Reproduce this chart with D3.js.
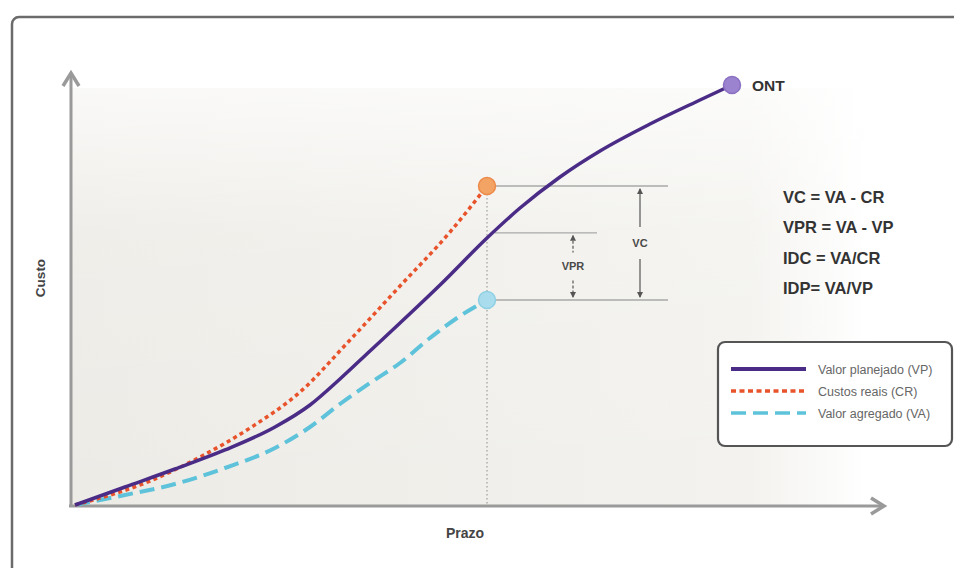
<!DOCTYPE html>
<html><head><meta charset="utf-8">
<script src="https://cdn.jsdelivr.net/npm/d3@7"></script>
<style>html,body{margin:0;padding:0;background:#fff;overflow:hidden}</style>
</head><body>
<svg id="c" width="954" height="568"></svg>
<script>
// ---- data (x = prazo, y = custo, arbitrary units 0..100) ----
const vpX = [0, 7.61, 15.22, 22.83, 30.44, 35.77, 40.33, 44.90, 49.47, 55.56, 62.71, 67.73, 73.82, 79.91, 87.52, 95.13, 100];
const vpY = [0, 4.29, 8.57, 13.10, 18.57, 23.81, 30.00, 36.67, 43.33, 52.38, 63.57, 70.71, 78.10, 84.29, 90.71, 96.43, 100];
const crX = [0, 11.42, 19.03, 26.64, 34.25, 41.86, 49.47, 57.08, 62.71];
const crY = [0, 5.71, 11.43, 18.33, 26.90, 39.29, 52.14, 65.00, 75.95];
const vaX = [0, 7.61, 15.22, 22.83, 30.44, 35.77, 40.33, 44.90, 49.47, 54.03, 58.60, 62.71];
const vaY = [0, 2.38, 5.00, 8.81, 13.57, 18.57, 24.05, 29.05, 33.81, 39.76, 45.0, 48.81];
const statusX = 62.71;
const vpStatus = 64.8;
const seriesNames = ["Valor planejado (VP)", "Custos reais (CR)", "Valor agregado (VA)"];
const formulas = ["VC = VA - CR", "VPR = VA - VP", "IDC = VA/CR", "IDP= VA/VP"];
const axisLabels = {x: "Prazo", y: "Custo"};

const svg = d3.select("#c");
const x = d3.scaleLinear().domain([0, 100]).range([75, 732]);
const y = d3.scaleLinear().domain([0, 100]).range([505, 85]);

const defs = svg.append("defs");
const g1 = defs.append("linearGradient").attr("id", "bgH").attr("x1", 0).attr("x2", 1).attr("y1", 0).attr("y2", 0);
g1.append("stop").attr("offset", "0").attr("stop-color", "#edebe6");
g1.append("stop").attr("offset", "0.85").attr("stop-color", "#f3f2ee");
g1.append("stop").attr("offset", "1").attr("stop-color", "#ffffff");
const g2 = defs.append("linearGradient").attr("id", "bgV").attr("x1", 0).attr("x2", 0).attr("y1", 0).attr("y2", 1);
g2.append("stop").attr("offset", "0").attr("stop-color", "#fff").attr("stop-opacity", 0.7);
g2.append("stop").attr("offset", "0.35").attr("stop-color", "#fff").attr("stop-opacity", 0.15);
g2.append("stop").attr("offset", "1").attr("stop-color", "#fff").attr("stop-opacity", 0);

// frame
svg.append("rect").attr("x", 12).attr("y", 17).attr("width", 1000).attr("height", 600)
  .attr("rx", 7).attr("fill", "#fff").attr("stroke", "#6b6b6b").attr("stroke-width", 2.5);

// plot background
svg.append("rect").attr("x", 72).attr("y", 88).attr("width", 795).attr("height", 417).attr("fill", "url(#bgH)");
svg.append("rect").attr("x", 72).attr("y", 88).attr("width", 795).attr("height", 417).attr("fill", "url(#bgV)");

// axes
const axCol = "#9a9a9a";
svg.append("line").attr("x1", 71).attr("x2", 71).attr("y1", 507).attr("y2", 74).attr("stroke", axCol).attr("stroke-width", 3);
svg.append("path").attr("d", "M63,86 L71,73 L79,86").attr("fill", "none").attr("stroke", axCol).attr("stroke-width", 3.5).attr("stroke-linejoin", "miter");
svg.append("line").attr("x1", 69).attr("x2", 882).attr("y1", 506).attr("y2", 506).attr("stroke", axCol).attr("stroke-width", 3);
svg.append("path").attr("d", "M871,498 L884,506 L871,514").attr("fill", "none").attr("stroke", axCol).attr("stroke-width", 3.5);

svg.append("text").attr("x", 465).attr("y", 538).attr("text-anchor", "middle")
  .attr("font-family", "Liberation Sans, Arial").attr("font-weight", "bold")
  .attr("font-size", 14).attr("fill", "#444").text(axisLabels.x);
svg.append("text").attr("transform", "translate(45,278) rotate(-90)").attr("text-anchor", "middle")
  .attr("font-family", "Liberation Sans, Arial").attr("font-weight", "bold")
  .attr("font-size", 13.5).attr("fill", "#444").text(axisLabels.y);

// status date vertical dotted line
svg.append("line").attr("x1", x(statusX)).attr("x2", x(statusX)).attr("y1", y(crY[crY.length-1])).attr("y2", 505)
  .attr("stroke", "#8a8a8a").attr("stroke-width", 1).attr("stroke-dasharray", "1.5,2.5");

// reference horizontal lines
const refCol = "#a9a9a9";
const sx = x(statusX);
svg.append("line").attr("x1", sx + 8).attr("x2", 668).attr("y1", y(crY[crY.length-1])).attr("y2", y(crY[crY.length-1])).attr("stroke", refCol).attr("stroke-width", 1.3);
svg.append("line").attr("x1", sx + 8).attr("x2", 597).attr("y1", y(vpStatus)).attr("y2", y(vpStatus)).attr("stroke", refCol).attr("stroke-width", 1.3);
svg.append("line").attr("x1", sx + 8).attr("x2", 668).attr("y1", y(vaY[vaY.length-1])).attr("y2", y(vaY[vaY.length-1])).attr("stroke", refCol).attr("stroke-width", 1.3);

// measurement arrows
function measure(xp, top, bot, label, dashed) {
  const mid = (top + bot) / 2;
  const col = "#555";
  const gap = label.length > 2 ? 14 : 16;
  [[top + 3, mid - gap], [mid + gap, bot - 3]].forEach(([a, b]) => {
    svg.append("line").attr("x1", xp).attr("x2", xp).attr("y1", a).attr("y2", b)
      .attr("stroke", col).attr("stroke-width", 1.2).attr("stroke-dasharray", dashed ? "3,2" : null);
  });
  svg.append("path").attr("d", `M${xp-3},${top+8} L${xp},${top+2} L${xp+3},${top+8} Z`).attr("fill", col);
  svg.append("path").attr("d", `M${xp-3},${bot-8} L${xp},${bot-2} L${xp+3},${bot-8} Z`).attr("fill", col);
  svg.append("text").attr("x", xp).attr("y", mid + 4).attr("text-anchor", "middle")
    .attr("font-family", "Liberation Sans, Arial").attr("font-weight", "bold")
    .attr("font-size", 11).attr("fill", "#4a4a4a").text(label);
}
measure(640, y(crY[crY.length-1]), y(vaY[vaY.length-1]), "VC", false);
measure(573, y(vpStatus), y(vaY[vaY.length-1]), "VPR", true);

// curves
const line = d3.line().x(d => x(d[0])).y(d => y(d[1])).curve(d3.curveMonotoneX);
const vp = vpX.map((v, i) => [v, vpY[i]]);
const cr = crX.map((v, i) => [v, crY[i]]);
const va = vaX.map((v, i) => [v, vaY[i]]);

const colVP = "#4a2c87", colCR = "#e8532b", colVA = "#5ec3da";
svg.append("path").attr("d", line(va)).attr("fill", "none").attr("stroke", colVA).attr("stroke-width", 4).attr("stroke-dasharray", "15,7");
svg.append("path").attr("d", line(cr)).attr("fill", "none").attr("stroke", colCR).attr("stroke-width", 3.5).attr("stroke-dasharray", "4,3.5");
svg.append("path").attr("d", line(vp)).attr("fill", "none").attr("stroke", colVP).attr("stroke-width", 3.5);

// end points
svg.append("circle").attr("cx", x(crX[crX.length-1])).attr("cy", y(crY[crY.length-1])).attr("r", 8.5).attr("fill", "#f3a464").attr("stroke", "#ec8a4a").attr("stroke-width", 1.5);
svg.append("circle").attr("cx", x(vaX[vaX.length-1])).attr("cy", y(vaY[vaY.length-1])).attr("r", 8.5).attr("fill", "#a9dcec").attr("stroke", "#8fd0e4").attr("stroke-width", 1.5);
svg.append("circle").attr("cx", x(vpX[vpX.length-1])).attr("cy", y(vpY[vpY.length-1])).attr("r", 8.5).attr("fill", "#9b83cf").attr("stroke", "#8a70c2").attr("stroke-width", 1.5);
svg.append("text").attr("x", 752).attr("y", y(100) + 5.5).attr("font-family", "Liberation Sans, Arial").attr("font-weight", "bold")
  .attr("font-size", 15.5).attr("fill", "#333").text("ONT");

// formulas
svg.append("g").selectAll("text").data(formulas).join("text")
  .attr("x", 783).attr("y", (d, i) => 203 + i * 30.3)
  .attr("font-family", "Liberation Sans, Arial").attr("font-weight", "bold").attr("font-size", 16.5)
  .attr("fill", "#333").text(d => d);

// legend
svg.append("rect").attr("x", 718).attr("y", 342).attr("width", 234).attr("height", 104).attr("rx", 7)
  .attr("fill", "#fff").attr("stroke", "#555").attr("stroke-width", 2.2);
const legStyles = [
  {c: colVP, w: 4, d: null},
  {c: colCR, w: 3.5, d: "5,3.5"},
  {c: colVA, w: 3.5, d: "15,7"}
];
const legY = [369, 391, 413];
seriesNames.forEach((n, i) => {
  svg.append("line").attr("x1", 731).attr("x2", 806).attr("y1", legY[i]).attr("y2", legY[i])
    .attr("stroke", legStyles[i].c).attr("stroke-width", legStyles[i].w).attr("stroke-dasharray", legStyles[i].d);
  svg.append("text").attr("x", 818).attr("y", legY[i] + 4.5).attr("font-family", "Liberation Sans, Arial")
    .attr("font-size", 12.5).attr("fill", "#666").text(n);
});
</script>
</body></html>
